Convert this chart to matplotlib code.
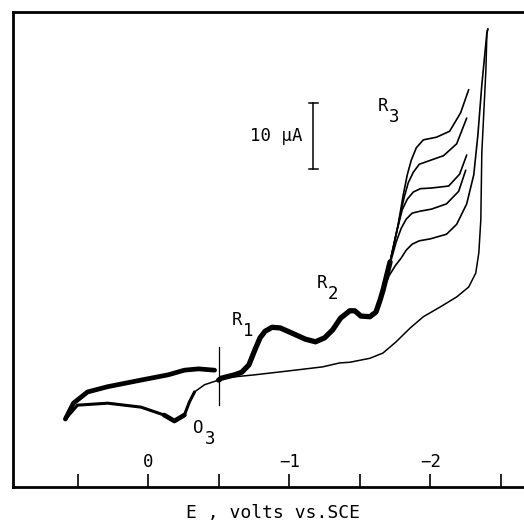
import matplotlib
matplotlib.use("Agg")
import matplotlib.pyplot as plt
import matplotlib.transforms as mtransforms

# potential in V vs SCE, current in uA (cathodic up)

# return sweep: from the -2.4 V switching point back to the anodic end
E_ret = [-2.407, -2.40, -2.393, -2.364, -2.357, -2.343, -2.321, -2.271, -2.186, -2.071,
         -1.95, -1.857, -1.757, -1.664, -1.571, -1.429, -1.357, -1.236, -1.0, -0.757,
         -0.521, -0.50, -0.40, -0.329, -0.293, -0.257, -0.186, -0.114, 0.05, 0.286,
         0.50, 0.586]
I_ret = [69.4, 68.8, 63.2, 50.6, 40.5, 35.5, 32.4, 30.3, 28.8, 27.3,
         25.8, 24.1, 22.0, 20.3, 19.5, 18.9, 18.8, 18.2, 17.6, 17.0,
         16.5, 16.2, 15.5, 14.4, 12.9, 10.9, 10.0, 10.9, 12.1, 12.7,
         12.4, 10.3]

# anodic end back to the starting potential
E_up = [0.586, 0.529, 0.429, 0.286, 0.05, -0.143, -0.257, -0.357, -0.471]
I_up = [10.3, 12.7, 14.4, 15.2, 16.2, 17.0, 17.7, 17.9, 17.7]

# forward sweep shared by all scans (R1, R2)
E_fwd = [-0.50, -0.521, -0.614, -0.664, -0.714, -0.757, -0.793, -0.829, -0.879, -0.936,
         -1.021, -1.114, -1.186, -1.25, -1.307, -1.364, -1.429, -1.464, -1.507, -1.571,
         -1.614, -1.643, -1.664, -1.714]
I_fwd = [16.2, 16.5, 17.0, 17.4, 18.5, 20.8, 22.6, 23.6, 24.2, 24.1,
         23.3, 22.4, 22.0, 22.6, 23.8, 25.6, 26.7, 26.7, 25.9, 25.8,
         26.5, 28.3, 29.8, 34.1]

# R3 wave, one branch per scan
E_r3 = [
    [-1.664, -1.714, -1.771, -1.807, -1.836, -1.864, -1.90, -1.95, -2.043, -2.136, -2.214, -2.271],
    [-1.664, -1.714, -1.771, -1.814, -1.843, -1.879, -1.921, -2.0, -2.093, -2.186, -2.257],
    [-1.664, -1.714, -1.764, -1.80, -1.836, -1.879, -1.929, -2.007, -2.129, -2.207, -2.257],
    [-1.664, -1.714, -1.757, -1.793, -1.829, -1.871, -1.929, -2.007, -2.114, -2.20, -2.25],
    [-1.664, -1.707, -1.75, -1.793, -1.829, -1.871, -1.921, -2.0, -2.114, -2.186, -2.257,
     -2.307, -2.336, -2.364, -2.40, -2.407],
]
I_r3 = [
    [29.8, 34.1, 39.7, 44.2, 47.3, 49.5, 51.4, 52.6, 53.0, 53.9, 56.7, 60.2],
    [29.8, 34.1, 39.7, 43.9, 46.1, 47.7, 48.9, 49.5, 50.2, 52.0, 55.9],
    [29.8, 34.1, 38.9, 42.0, 43.6, 44.7, 45.2, 45.3, 45.6, 47.4, 50.3],
    [29.8, 33.8, 37.1, 39.2, 40.6, 41.5, 41.8, 42.1, 42.9, 44.8, 48.0],
    [29.8, 32.0, 33.5, 34.7, 35.9, 36.8, 37.3, 37.6, 38.3, 39.8, 42.9,
     47.3, 53.3, 60.9, 68.8, 69.4],
]

E_start = -0.5
marker_I = [12.4, 21.2]

bar_E = -1.171
bar_I = [48.2, 58.2]

xticks = [0.5, 0.0, -0.5, -1.0, -1.5, -2.0, -2.5]
xlabels = {0.0: "0", -1.0: "\u22121", -2.0: "\u22122"}

# letter, subscript, E and I of the letter centre
peaks = [("R", "1", -0.629, 25.3), ("R", "2", -1.229, 30.9),
         ("R", "3", -1.664, 57.7), ("O", "3", -0.357, 8.9)]

mono = "DejaVu Sans Mono"

fig = plt.figure(figsize=(5.24, 5.23), dpi=100)
ax = fig.add_axes([13 / 524, 36 / 523, 1 - 13 / 524 + 0.01, (487 - 12) / 523])

ax.plot(E_ret, I_ret, color="black", lw=1.1, solid_capstyle="round")
ax.plot(E_ret[23:], I_ret[23:], color="black", lw=2.2, solid_capstyle="round",
        solid_joinstyle="round")
ax.plot(E_ret[25:28], I_ret[25:28], color="black", lw=3.4, solid_capstyle="round",
        solid_joinstyle="round")
ax.plot(E_up, I_up, color="black", lw=3.4, solid_capstyle="round", solid_joinstyle="round")
ax.plot(E_fwd, I_fwd, color="black", lw=3.8, solid_capstyle="round", solid_joinstyle="round")
for e, i in zip(E_r3, I_r3):
    ax.plot(e, i, color="black", lw=1.2, solid_capstyle="round", solid_joinstyle="round")

# starting potential marker
ax.plot([E_start, E_start], marker_I, color="black", lw=0.9)

# current scale bar
ax.plot([bar_E, bar_E], bar_I, color="black", lw=1.1)
for yy in bar_I:
    ax.plot([bar_E - 0.03, bar_E + 0.03], [yy, yy], color="black", lw=1.1)
ax.text(bar_E + 0.078, sum(bar_I) / 2, "10 \u00b5A", ha="right", va="center",
        family=mono, fontsize=12.5)

for base, sub, e, i in peaks:
    ax.text(e, i, base, ha="center", va="center", family=mono, fontsize=12.5)
    ax.text(e - 0.079, i - 1.7, sub, ha="center", va="center", family=mono, fontsize=12.5)

ax.set_xlim(0.957, -2.70)
ax.set_ylim(0, 71.97)

ax.set_xticks(xticks)
ax.set_xticklabels([])
ax.set_yticks([])
ax.tick_params(axis="x", direction="in", length=9.5, width=1.2)
trans = mtransforms.blended_transform_factory(ax.transData, ax.transAxes)
for v, s in xlabels.items():
    ax.text(v, 0.052, s, transform=trans, ha="center", va="center",
            family=mono, fontsize=12.5)

for side in ["left", "top", "bottom"]:
    ax.spines[side].set_linewidth(2.0)
ax.spines["right"].set_visible(False)

fig.text(273 / 524, (523 - 513) / 523, "E , volts vs.SCE", ha="center", va="center",
         family=mono, fontsize=13)

fig.savefig("out.png", dpi=100)
